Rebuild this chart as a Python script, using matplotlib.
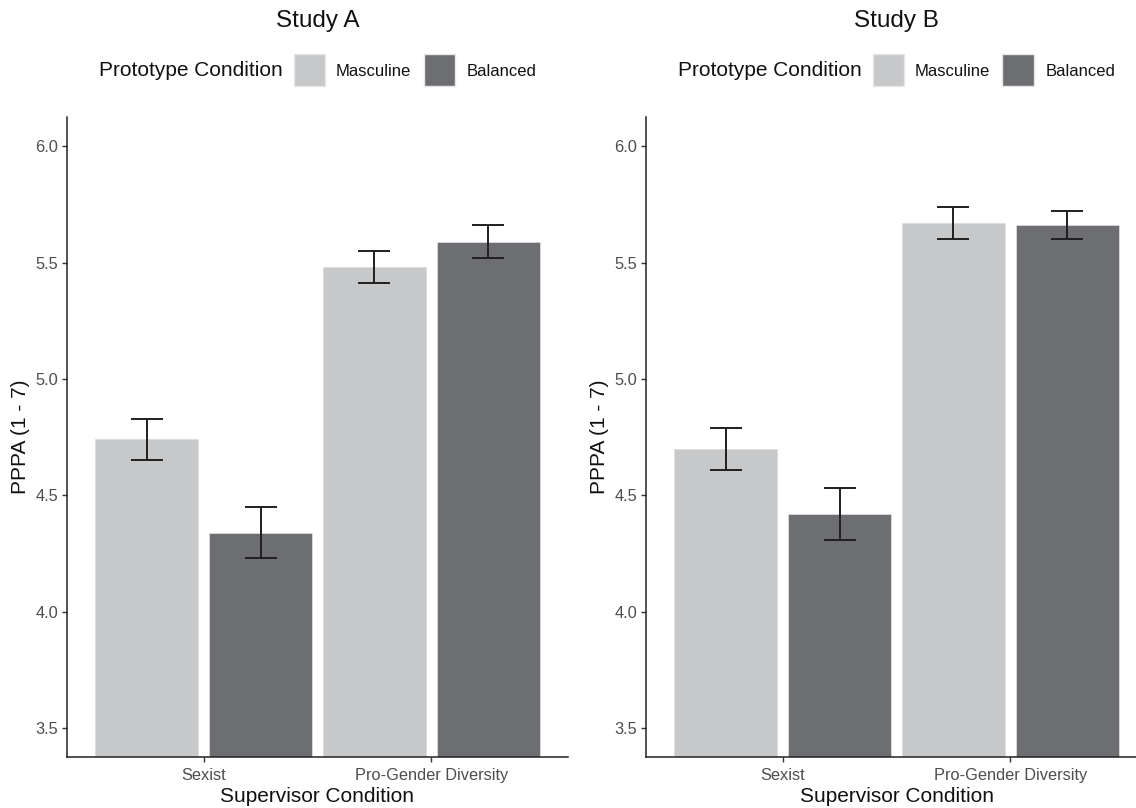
import matplotlib
matplotlib.use("Agg")
import matplotlib.pyplot as plt
from matplotlib.patches import Rectangle
import numpy as np

plt.rcParams['font.family'] = ['Liberation Sans', 'DejaVu Sans']

# ---- data ----
supervisor = ["Sexist", "Pro-Gender Diversity"]
prototype = ["Masculine", "Balanced"]
studies = ["Study A", "Study B"]

studyA_masc = [4.74, 5.48]
studyA_masc_se = [0.09, 0.07]
studyA_bal = [4.34, 5.59]
studyA_bal_se = [0.11, 0.07]

studyB_masc = [4.70, 5.67]
studyB_masc_se = [0.09, 0.07]
studyB_bal = [4.42, 5.66]
studyB_bal_se = [0.11, 0.06]

yticks = [3.5, 4.0, 4.5, 5.0, 5.5, 6.0]

colors = {"Masculine": "#C7C8CA", "Balanced": "#6D6E71"}

W, H = 1136, 808
fig = plt.figure(figsize=(W / 100, H / 100), dpi=100)

def px_axes(l, r, t, b):
    return fig.add_axes([l / W, (H - b) / H, (r - l) / W, (b - t) / H])

panels = [
    (studies[0], studyA_masc, studyA_masc_se, studyA_bal, studyA_bal_se, 67, 568),
    (studies[1], studyB_masc, studyB_masc_se, studyB_bal, studyB_bal_se, 646, 1147),
]

top_px, bot_px = 117, 757.3
x = np.arange(1, len(supervisor) + 1)
bw = 0.45
off = 0.25

for title, m, mse, b, bse, l, r in panels:
    ax = px_axes(l, r, top_px, bot_px)
    for vals, ses, name, sgn in [(m, mse, "Masculine", -1), (b, bse, "Balanced", 1)]:
        xp = x + sgn * off
        ax.bar(xp, vals, width=bw, color=colors[name], edgecolor="#dcdcdc",
               linewidth=0.6, zorder=2)
        ax.errorbar(xp, vals, yerr=ses, fmt="none", ecolor="#1f1f1f",
                    elinewidth=1.4, capsize=11.5, capthick=1.4, zorder=3)
    ax.set_xlim(0.4, 2.6)
    ax.set_ylim(3.375, 6.125)
    ax.set_yticks(yticks)
    ax.set_yticklabels([f"{v:.1f}" for v in yticks])
    ax.set_xticks(x)
    ax.set_xticklabels(supervisor)
    for s in ["top", "right"]:
        ax.spines[s].set_visible(False)
    for s in ["left", "bottom"]:
        ax.spines[s].set_color("#222222")
        ax.spines[s].set_linewidth(1.1)
    ax.tick_params(axis="both", colors="#333333", labelcolor="#4D4D4D",
                   labelsize=11.8, length=3.5, width=1.0, pad=3)
    ax.tick_params(axis="x", pad=4)
    ax.set_xlabel("Supervisor Condition", fontsize=15, color="#111111", labelpad=3)
    ax.set_ylabel("PPPA (1 - 7)", fontsize=15, color="#111111", labelpad=4)

    cx = (l + r) / 2
    # title
    fig.text(cx / W, 1 - 21 / H, title, ha="center", va="center",
             fontsize=17.5, color="#111111")
    # legend
    ly = 70
    fig.text((cx - 218.5) / W, 1 - (ly + 1) / H, "Prototype Condition", ha="left",
             va="center", fontsize=15, color="#111111")
    key_offsets = [(-23.5, 18.5), (106, 149)]
    for name, (ko, to) in zip(prototype, key_offsets):
        kx = cx + ko
        fig.add_artist(Rectangle((kx / W, 1 - (ly + 15.5) / H), 31 / W, 31 / H,
                                 transform=fig.transFigure, facecolor=colors[name],
                                 edgecolor="#e6e6e6", linewidth=1.0))
        fig.text((cx + to) / W, 1 - (ly + 1.5) / H, name, ha="left", va="center",
                 fontsize=12, color="#111111")

fig.savefig("out.png", dpi=100)
